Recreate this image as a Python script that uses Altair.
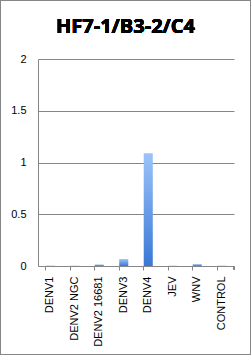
import altair as alt
import pandas as pd

categories = ["DENV1", "DENV2 NGC", "DENV2 16681", "DENV3", "DENV4", "JEV", "WNV", "CONTROL"]
values = [0.004, 0.003, 0.015, 0.067, 1.09, 0.003, 0.018, 0.004]
y_ticks = [0, 0.5, 1, 1.5, 2]

df = pd.DataFrame({"cat": categories, "val": values})

W, H = 196, 207
PL, PT = 38, 59

grad = alt.Gradient(
    gradient="linear",
    stops=[alt.GradientStop(color="#9CC3FA", offset=0),
           alt.GradientStop(color="#3A78D4", offset=1)],
    x1=0, x2=0, y1=0, y2=1,
)

x_enc = alt.X("cat:N", sort=categories, title=None,
              scale=alt.Scale(paddingInner=0.63, paddingOuter=0.315),
              axis=alt.Axis(labelAngle=-90, labelFont="Liberation Sans", labelFontSize=11,
                            labelColor="#000000", labelPadding=6, bandPosition=0,
                            tickColor="#868686", tickSize=4, domainColor="#868686",
                            grid=False, labelBaseline="middle", labelAlign="right"))
y_enc = alt.Y("val:Q", title=None,
              scale=alt.Scale(domain=[0, 2], nice=False),
              axis=alt.Axis(values=y_ticks, labelFont="Liberation Sans", labelFontSize=11,
                            labelColor="#000000", labelPadding=12, ticks=False,
                            domainColor="#868686", gridColor="#868686", gridOpacity=1,
                            labelExpr="datum.value == 0 ? '0' : format(datum.value, '')"))

bars = alt.Chart(df).mark_bar(fill=grad).encode(x=x_enc, y=y_enc)

end_tick = alt.Chart(df).mark_rule(color="#868686").encode(
    x=alt.value(W), y=alt.value(H), y2=alt.value(H + 4))

frame = alt.Chart(df).mark_rect(fill=None, stroke="#868686", strokeWidth=1).encode(
    x=alt.value(-PL + 0.5), x2=alt.value(251 - PL - 0.5),
    y=alt.value(-PT + 0.5), y2=alt.value(355 - PT - 0.5))

title = alt.Chart(df).mark_text(font="Open Sans", fontWeight="bold", fontSize=20,
                                color="#000000", baseline="alphabetic", align="center").encode(
    x=alt.value(125.5 - PL), y=alt.value(33 - PT), text=alt.value("HF7-1/B3-2/C4"))

chart = alt.layer(bars, end_tick, frame, title).properties(
    width=W, height=H,
    autosize=alt.AutoSizeParams(type="none"),
    padding={"left": PL, "top": PT, "right": 251 - PL - W, "bottom": 355 - PT - H},
    background="white",
).configure_view(stroke=None)

chart.save("out.html", embed_options={"renderer": "svg", "actions": False})
